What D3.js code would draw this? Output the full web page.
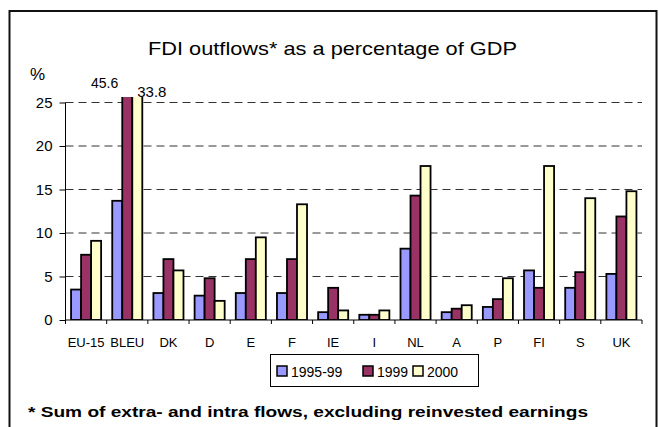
<html>
<head>
<title>FDI outflows</title>
<script src="https://cdnjs.cloudflare.com/ajax/libs/d3/7.8.5/d3.min.js"></script>
<style>
  body { margin: 0; background: #fff; }
  text { font-family: "Liberation Sans", Arial, sans-serif; }
</style>
</head>
<body>
<div id="vis_container"></div>
<script>

    // data
    var categories = ["EU-15", "BLEU", "DK", "D", "E", "F", "IE", "I", "NL", "A", "P", "FI", "S", "UK"];
    var seriesNames = ["1995-99", "1999", "2000"];
    var v9599 = [3.5, 13.7, 3.1, 2.8, 3.1, 3.1, 0.9, 0.6, 8.2, 0.9, 1.5, 5.7, 3.7, 5.3];
    var v1999 = [7.5, 45.6, 7.0, 4.8, 7.0, 7.0, 3.7, 0.6, 14.3, 1.3, 2.4, 3.7, 5.5, 11.9];
    var v2000 = [9.1, 33.8, 5.7, 2.2, 9.5, 13.3, 1.1, 1.1, 17.7, 1.7, 4.8, 17.7, 14.0, 14.8];
    var yTicks = [0, 5, 10, 15, 20, 25];
    var colors = ["#9999ff", "#993366", "#ffffcc"];

    var width = 659, height = 427;
    var left = 65.5, right = 642, bottom = 320, top25 = 102.5, plotTop = 97;

    var svg = d3.select("#vis_container").append("svg")
        .attr("width", width)
        .attr("height", height);

    // outer frame
    svg.append("rect")
        .attr("x", 9.5).attr("y", 11)
        .attr("width", 647).attr("height", 430)
        .attr("fill", "none").attr("stroke", "#111").attr("stroke-width", 2);

    svg.append("text")
        .attr("x", 148).attr("y", 55)
        .attr("textLength", 369).attr("lengthAdjust", "spacingAndGlyphs")
        .style("font-size", "19px")
        .text("FDI outflows* as a percentage of GDP");

    var x = d3.scaleBand().domain(categories).range([left, right])
        .paddingInner(0.27).paddingOuter(0.135);
    var xs = d3.scaleBand().domain(seriesNames).range([0, x.bandwidth()]);
    var y = d3.scaleLinear().domain([0, 25]).range([bottom, top25]);
    var step = x.step();

    // gridlines
    svg.append("g").selectAll("line").data(yTicks.filter(function(d){ return d > 0; }))
        .enter().append("line")
        .attr("x1", left).attr("x2", right)
        .attr("y1", function(d){ return y(d); }).attr("y2", function(d){ return y(d); })
        .attr("stroke", "#333").attr("stroke-width", 1)
        .attr("stroke-dasharray", "8,5");

    svg.append("defs").append("clipPath").attr("id", "plot")
        .append("rect").attr("x", left).attr("y", plotTop)
        .attr("width", right - left).attr("height", bottom - plotTop);

    var series = [v9599, v1999, v2000];
    var bars = svg.append("g").attr("clip-path", "url(#plot)");
    series.forEach(function(vals, s) {
        bars.selectAll("rect.s" + s).data(vals).enter().append("rect")
            .attr("class", "s" + s)
            .attr("x", function(d, i){ return x(categories[i]) + xs(seriesNames[s]); })
            .attr("width", xs.bandwidth())
            .attr("y", function(d){ return y(d); })
            .attr("height", function(d){ return bottom - y(d); })
            .attr("fill", colors[s])
            .attr("stroke", "#000").attr("stroke-width", 1.8);
    });

    // y axis
    var yAxis = d3.axisLeft(y).tickValues(yTicks).tickSize(6).tickPadding(7);
    var gy = svg.append("g").attr("transform", "translate(" + left + ",0)").call(yAxis);
    gy.selectAll("text").style("font-size", "15px").attr("fill", "#000");
    gy.select(".domain").attr("d", "M0," + bottom + "V" + top25);

    // x axis: ticks between categories
    var bounds = d3.range(categories.length + 1);
    svg.append("line").attr("x1", left).attr("x2", right)
        .attr("y1", bottom).attr("y2", bottom).attr("stroke", "#000");
    svg.append("g").selectAll("line").data(bounds).enter().append("line")
        .attr("x1", function(i){ return left + i * step; })
        .attr("x2", function(i){ return left + i * step; })
        .attr("y1", bottom).attr("y2", bottom + 4)
        .attr("stroke", "#000");
    svg.append("g").selectAll("text").data(categories).enter().append("text")
        .attr("x", function(d){ return x(d) + x.bandwidth() / 2; })
        .attr("y", 347)
        .attr("text-anchor", "middle")
        .style("font-size", "13px")
        .text(function(d){ return d; });

    svg.append("text").attr("x", 30).attr("y", 80).style("font-size", "17px").text("%");

    // labels for the clipped BLEU bars
    svg.append("text")
        .attr("x", x("BLEU") + xs("1999") - 4).attr("y", 88)
        .attr("text-anchor", "end").style("font-size", "14px")
        .text(v1999[1].toFixed(1));
    svg.append("text")
        .attr("x", x("BLEU") + xs("2000") + 5).attr("y", 97)
        .style("font-size", "15px")
        .text(v2000[1].toFixed(1));

    // legend
    var lg = svg.append("g");
    lg.append("rect").attr("x", 270.5).attr("y", 354.5).attr("width", 208).attr("height", 32)
        .attr("fill", "#fff").attr("stroke", "#000");
    var legX = [277, 363, 413];
    seriesNames.forEach(function(n, i) {
        lg.append("rect").attr("x", legX[i]).attr("y", 366).attr("width", 10).attr("height", 10)
            .attr("fill", colors[i]).attr("stroke", "#000").attr("stroke-width", 1.5);
        lg.append("text").attr("x", legX[i] + 14).attr("y", 376.5)
            .style("font-size", "14px").text(n);
    });

    svg.append("text")
        .attr("x", 28).attr("y", 416.5)
        .attr("textLength", 560).attr("lengthAdjust", "spacingAndGlyphs")
        .style("font-size", "14.5px").style("font-weight", "bold")
        .text("* Sum of extra- and intra flows, excluding reinvested earnings");

</script>
</body>
</html>
